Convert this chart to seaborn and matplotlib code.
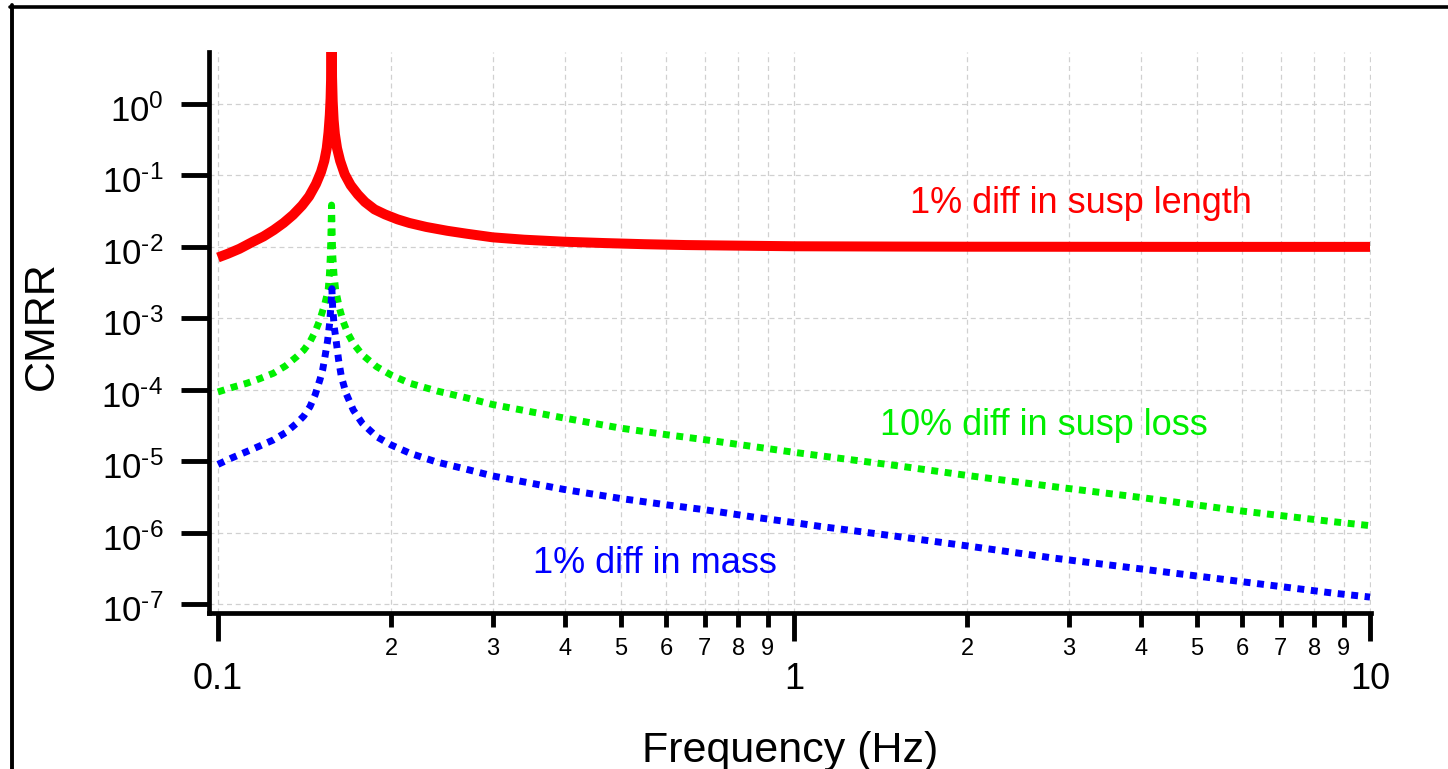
import matplotlib
matplotlib.use("Agg")
import matplotlib.pyplot as plt
import matplotlib.transforms as mtransforms
from matplotlib.lines import Line2D
from matplotlib.ticker import NullLocator
import seaborn as sns

# ---------------- data ----------------
freq_length = [0.100, 0.104, 0.109, 0.115, 0.120, 0.125, 0.130, 0.135, 0.140, 0.144,
               0.148, 0.151, 0.153, 0.1545, 0.1556, 0.1564, 0.1569, 0.1572, 0.1575,
               0.1578, 0.1582, 0.1588, 0.1596, 0.161, 0.163, 0.166, 0.170, 0.175,
               0.180, 0.187, 0.195, 0.205, 0.215, 0.230, 0.250, 0.270, 0.300, 0.340,
               0.400, 0.470, 0.550, 0.650, 0.800, 1.0, 1.5, 2.0, 3.0, 5.0, 10.0]
cmrr_length = [0.0071, 0.0080, 0.0094, 0.0118, 0.0140, 0.0172, 0.0216, 0.028, 0.038, 0.051,
               0.076, 0.112, 0.16, 0.24, 0.40, 0.70, 1.2, 2.2, 60.0,
               2.4, 1.1, 0.60, 0.38, 0.24, 0.16, 0.104, 0.073, 0.054,
               0.0425, 0.0335, 0.0285, 0.0243, 0.0216, 0.0190, 0.0168, 0.0153, 0.0136, 0.0126,
               0.0118, 0.0113, 0.0109, 0.0106, 0.0104, 0.0102, 0.0101, 0.01005, 0.01003,
               0.0100, 0.0100]

freq_loss = [0.100, 0.106, 0.1122, 0.118, 0.1248, 0.131, 0.137, 0.141, 0.1445, 0.1475,
             0.1503, 0.1534, 0.1554, 0.1562, 0.1568, 0.1572, 0.1575, 0.1578, 0.1582,
             0.1590, 0.1601, 0.1625, 0.165, 0.168, 0.1718, 0.178, 0.1886, 0.200, 0.2155,
             0.240, 0.270, 0.300, 0.350, 0.400, 0.500, 0.600, 0.7055, 0.850, 1.0, 1.11,
             1.5, 2.0, 2.82, 4.0, 6.0, 8.63, 10.0]
cmrr_loss = [9.3e-5, 1.08e-4, 1.23e-4, 1.42e-4, 1.70e-4, 2.15e-4, 2.9e-4, 3.6e-4, 4.7e-4, 6.5e-4,
             9.5e-4, 1.62e-3, 2.5e-3, 4.2e-3, 8.0e-3, 1.8e-2, 3.85e-2, 1.8e-2, 8.0e-3,
             4.2e-3, 2.5e-3, 1.4e-3, 9.0e-4, 6.2e-4, 4.45e-4, 3.1e-4, 2.1e-4, 1.6e-4, 1.23e-4,
             9.6e-5, 7.7e-5, 6.2e-5, 4.9e-5, 4.0e-5, 2.9e-5, 2.35e-5, 1.98e-5, 1.6e-5, 1.33e-5, 1.19e-5,
             8.7e-6, 6.3e-6, 4.4e-6, 3.1e-6, 2.0e-6, 1.42e-6, 1.25e-6]

freq_mass = [0.100, 0.106, 0.1122, 0.118, 0.1248, 0.131, 0.137, 0.141, 0.1445, 0.1475,
             0.1503, 0.152, 0.1534, 0.155, 0.1563, 0.1572, 0.1577, 0.1582, 0.1592,
             0.1601, 0.162, 0.1638, 0.167, 0.1718, 0.178, 0.1886, 0.200, 0.2155,
             0.240, 0.270, 0.300, 0.350, 0.400, 0.500, 0.600, 0.7055, 0.850, 1.0, 1.11,
             1.5, 2.0, 2.82, 4.0, 6.0, 8.63, 10.0]
cmrr_mass = [9.0e-6, 1.12e-5, 1.36e-5, 1.62e-5, 1.98e-5, 2.5e-5, 3.39e-5, 4.3e-5, 5.8e-5, 8.5e-5,
             1.37e-4, 1.9e-4, 2.9e-4, 4.8e-4, 8.5e-4, 1.6e-3, 2.6e-3, 1.4e-3, 7.5e-4,
             5.5e-4, 2.6e-4, 1.52e-4, 8.8e-5, 5.2e-5, 3.4e-5, 2.2e-5, 1.68e-5, 1.29e-5,
             9.7e-6, 7.7e-6, 6.2e-6, 4.9e-6, 4.0e-6, 3.0e-6, 2.45e-6, 2.07e-6, 1.65e-6, 1.38e-6, 1.22e-6,
             8.9e-7, 6.5e-7, 4.4e-7, 3.1e-7, 2.05e-7, 1.42e-7, 1.25e-7]

series_labels = ["1% diff in susp length", "10% diff in susp loss", "1% diff in mass"]

x_major_ticks = [0.1, 1, 10]
x_major_labels = ["0.1", "1", "10"]
x_minor_ticks = [0.2, 0.3, 0.4, 0.5, 0.6, 0.7, 0.8, 0.9, 2, 3, 4, 5, 6, 7, 8, 9]
x_minor_labels = ["2", "3", "4", "5", "6", "7", "8", "9",
                  "2", "3", "4", "5", "6", "7", "8", "9"]
y_ticks = [1e0, 1e-1, 1e-2, 1e-3, 1e-4, 1e-5, 1e-6, 1e-7]
y_tick_labels = ["$\\mathregular{10^{0}}$", "$\\mathregular{10^{\u20101}}$",
                 "$\\mathregular{10^{\u20102}}$", "$\\mathregular{10^{\u20103}}$",
                 "$\\mathregular{10^{\u20104}}$", "$\\mathregular{10^{\u20105}}$",
                 "$\\mathregular{10^{\u20106}}$", "$\\mathregular{10^{\u20107}}$"]

x_label = "Frequency (Hz)"
y_label = "CMRR"

# ---------------- style ----------------
sns.set_theme(style="ticks")
plt.rcParams["font.family"] = ["Liberation Sans", "DejaVu Sans"]
plt.rcParams["mathtext.default"] = "regular"
for k in ["text.color", "axes.labelcolor", "xtick.color", "ytick.color", "axes.edgecolor"]:
    plt.rcParams[k] = "black"

W, H = 1448, 769
fig = plt.figure(figsize=(W / 100, H / 100), dpi=100)
ax = fig.add_axes([209 / W, 1 - 613 / H, (1371 - 209) / W, (613 - 52) / H])
ax.set_xscale("log")
ax.set_yscale("log")

sns.lineplot(x=freq_length, y=cmrr_length, ax=ax, color="#ff0000", lw=7.2,
             estimator=None, sort=False, solid_capstyle="butt")
sns.lineplot(x=freq_loss, y=cmrr_loss, ax=ax, color="#00f000", lw=5.0,
             estimator=None, sort=False, linestyle=(0, (1.0, 0.95)),
             dash_capstyle="butt")
sns.lineplot(x=freq_mass, y=cmrr_mass, ax=ax, color="#0000ff", lw=5.0,
             estimator=None, sort=False, linestyle=(0, (1.0, 0.95)),
             dash_capstyle="butt")

ax.set_xlim(0.0965, 10.04)
ax.set_ylim(7.48e-8, 5.35)

ax.set_xticks(x_major_ticks)
ax.set_xticklabels(x_major_labels)
ax.set_xticks(x_minor_ticks, minor=True)
ax.set_xticklabels(x_minor_labels, minor=True)
ax.set_yticks(y_ticks)
ax.set_yticklabels(y_tick_labels)
ax.yaxis.set_minor_locator(NullLocator())

ax.tick_params(axis="y", which="major", direction="out", length=20, width=3.5,
               labelsize=25, pad=13, left=True)
ax.tick_params(axis="x", which="major", direction="out", length=20, width=3.5,
               labelsize=26, pad=15, bottom=True)
ax.tick_params(axis="x", which="minor", direction="out", length=10, width=3.5,
               labelsize=17, pad=8, bottom=True)

# nudge y tick labels slightly down (superscript sits above the tick in the original)
shift = mtransforms.ScaledTranslation(0, -4 / 100, fig.dpi_scale_trans)
for lab in ax.get_yticklabels():
    lab.set_transform(lab.get_transform() + shift)

ax.grid(True, which="major", axis="both", ls=(0, (4, 3)), color="#d0d0d0", lw=0.9)
ax.grid(True, which="minor", axis="x", ls=(0, (4, 3)), color="#d0d0d0", lw=0.9)
ax.set_axisbelow(True)

for s in ["top", "right"]:
    ax.spines[s].set_visible(False)
for s in ["left", "bottom"]:
    ax.spines[s].set_linewidth(3.4)
    ax.spines[s].set_color("black")

ax.set_xlabel(x_label, fontsize=31, labelpad=25)
ax.set_ylabel(y_label, fontsize=31)
ax.yaxis.set_label_coords(-0.1265, 0.5116)

ax.text(1.59, 0.0295, series_labels[0], color="#ff0000", fontsize=26,
        ha="left", va="baseline")
ax.text(1.41, 2.32e-5, series_labels[1], color="#00ee00", fontsize=26,
        ha="left", va="baseline")
ax.text(0.352, 2.69e-7, series_labels[2], color="#0000ff", fontsize=26,
        ha="left", va="baseline")

# outer frame of the figure (partially visible)
fig.add_artist(Line2D([10 / W, 1.0], [1 - 6.5 / H, 1 - 6.5 / H],
                      transform=fig.transFigure, color="black", lw=2.6))
fig.add_artist(Line2D([11.5 / W, 11.5 / W], [0.0, 1 - 5 / H],
                      transform=fig.transFigure, color="black", lw=2.8))

fig.savefig("out.png", dpi=100)
